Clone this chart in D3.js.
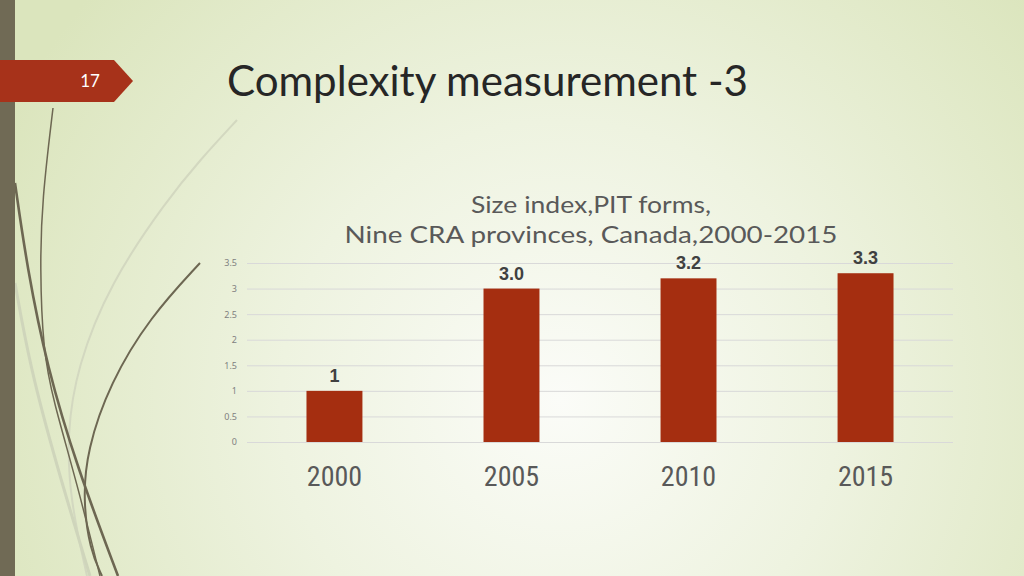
<!DOCTYPE html>
<html>
<head>
<meta charset="utf-8">
<script src="https://cdn.jsdelivr.net/npm/d3@7"></script>
<style>
  html, body { margin: 0; padding: 0; overflow: hidden; }
  svg { display: block; }
</style>
</head>
<body>
<div id="graph"></div>
<script>
// chart values
var years = ["2000", "2005", "2010", "2015"];
var sizeIndex = [1, 3.0, 3.2, 3.3];
var valueLabels = ["1", "3.0", "3.2", "3.3"];
var yTicks = [0, 0.5, 1, 1.5, 2, 2.5, 3, 3.5];

var slideTitle = "Complexity measurement -3";
var slideNumber = "17";
var chartTitle = ["Size index,PIT forms,", "Nine CRA provinces, Canada,2000-2015"];

var width = 1024;
var height = 576;

var svg = d3.select('#graph')
  .append('svg')
  .attr('width', width)
  .attr('height', height);

// background
var defs = svg.append('defs');
var grad = defs.append('radialGradient')
  .attr('id', 'bg')
  .attr('gradientUnits', 'userSpaceOnUse')
  .attr('cx', 560).attr('cy', 400).attr('r', 620);
grad.append('stop').attr('offset', '0%').attr('stop-color', '#fbfcf8');
grad.append('stop').attr('offset', '45%').attr('stop-color', '#eef3e0');
grad.append('stop').attr('offset', '100%').attr('stop-color', '#dbe5bd');

svg.append('rect')
  .attr('width', width)
  .attr('height', height)
  .attr('fill', 'url(#bg)');

// decorative curves on the left
var curveLine = d3.line().curve(d3.curveBasis);
var deco = [
  { pts: [[237,120],[200,160],[167,200],[110,283],[77,367],[67,433],[70,500],[87,576]], color: '#d3d8c0', w: 2 },
  { pts: [[15,283],[30,367],[57,467],[90,576]], color: '#cfd5bb', w: 3 },
  { pts: [[53,108],[42,200],[40,267],[43,350],[53,400],[77,483],[100,576]], color: '#6d6752', w: 1.5 },
  { pts: [[15,183],[27,267],[47,367],[77,467],[118,576]], color: '#6d6752', w: 2.6 },
  { pts: [[200,263],[150,317],[110,383],[87,450],[83,500],[90,550],[102,576]], color: '#6d6752', w: 2 }
];
svg.selectAll('path.deco')
  .data(deco)
  .enter()
  .append('path')
  .attr('class', 'deco')
  .attr('d', function(d) { return curveLine(d.pts); })
  .attr('fill', 'none')
  .attr('stroke', function(d) { return d.color; })
  .attr('stroke-width', function(d) { return d.w; });

// left bar
svg.append('rect')
  .attr('x', 0).attr('y', 0)
  .attr('width', 15).attr('height', height)
  .attr('fill', '#706a55');

// slide number banner
svg.append('path')
  .attr('d', 'M0,60 L114,60 L133,81 L114,102 L0,102 Z')
  .attr('fill', '#a7321a');
svg.append('text')
  .attr('x', 90).attr('y', 87)
  .attr('text-anchor', 'middle')
  .attr('font-family', 'Lato, "Open Sans", sans-serif')
  .attr('font-size', 17)
  .attr('fill', '#ffffff')
  .text(slideNumber);

var title = svg.append('text')
  .attr('x', 227).attr('y', 96)
  .attr('font-family', 'Lato, "Open Sans", sans-serif')
  .attr('font-size', 43)
  .attr('textLength', 521)
  .attr('lengthAdjust', 'spacingAndGlyphs')
  .attr('fill', '#262626')
  .text(slideTitle);

// chart title
var ct = svg.append('g')
  .attr('font-family', 'Lato, "Open Sans", sans-serif')
  .attr('font-size', 24)
  .attr('fill', '#595959')
  .attr('text-anchor', 'middle');
ct.append('text')
  .attr('x', 591).attr('y', 213)
  .attr('textLength', 240)
  .attr('lengthAdjust', 'spacingAndGlyphs')
  .text(chartTitle[0]);
ct.append('text')
  .attr('x', 591).attr('y', 243)
  .attr('textLength', 493)
  .attr('lengthAdjust', 'spacingAndGlyphs')
  .text(chartTitle[1]);

// scales
var x = d3.scaleBand()
  .domain(years)
  .range([247, 953])
  .paddingInner(0.684)
  .paddingOuter(0.336);

var y = d3.scaleLinear()
  .domain([0, 3.5])
  .range([442, 263]);

// gridlines + y labels
var yAxis = d3.axisLeft(y)
  .tickValues(yTicks)
  .tickSize(-(953 - 247))
  .tickPadding(10)
  .tickFormat(d3.format('~g'));

var gy = svg.append('g')
  .attr('transform', 'translate(247,0)')
  .call(yAxis);
gy.select('.domain').remove();
gy.selectAll('.tick line')
  .attr('stroke', '#d9d9d9')
  .attr('stroke-width', 1);
gy.selectAll('.tick text')
  .attr('fill', '#808080')
  .attr('font-family', '"Noto Sans", sans-serif')
  .attr('font-size', 9);

// bars
var data = years.map(function(yr, i) {
  return { year: yr, value: sizeIndex[i], label: valueLabels[i] };
});

svg.selectAll('rect.bar')
  .data(data)
  .enter()
  .append('rect')
  .attr('class', 'bar')
  .attr('x', function(d) { return x(d.year); })
  .attr('y', function(d) { return y(d.value); })
  .attr('width', x.bandwidth())
  .attr('height', function(d) { return y(0) - y(d.value); })
  .attr('fill', '#a52e10');

// value labels
svg.selectAll('text.val')
  .data(data)
  .enter()
  .append('text')
  .attr('class', 'val')
  .attr('x', function(d) { return x(d.year) + x.bandwidth() / 2; })
  .attr('y', function(d) { return y(d.value) - 9; })
  .attr('text-anchor', 'middle')
  .attr('font-family', '"Liberation Sans", Arial, sans-serif')
  .attr('font-weight', 'bold')
  .attr('font-size', 18)
  .attr('fill', '#404040')
  .text(function(d) { return d.label; });

// x labels
var xAxis = d3.axisBottom(x).tickSize(0).tickPadding(0);
var gx = svg.append('g')
  .attr('transform', 'translate(0,486)')
  .call(xAxis);
gx.select('.domain').remove();
gx.selectAll('.tick text')
  .attr('dy', 0)
  .attr('fill', '#595959')
  .attr('font-family', '"Liberation Sans Narrow", "Roboto Condensed", Roboto, sans-serif')
  .attr('font-size', 28);
</script>
</body>
</html>
